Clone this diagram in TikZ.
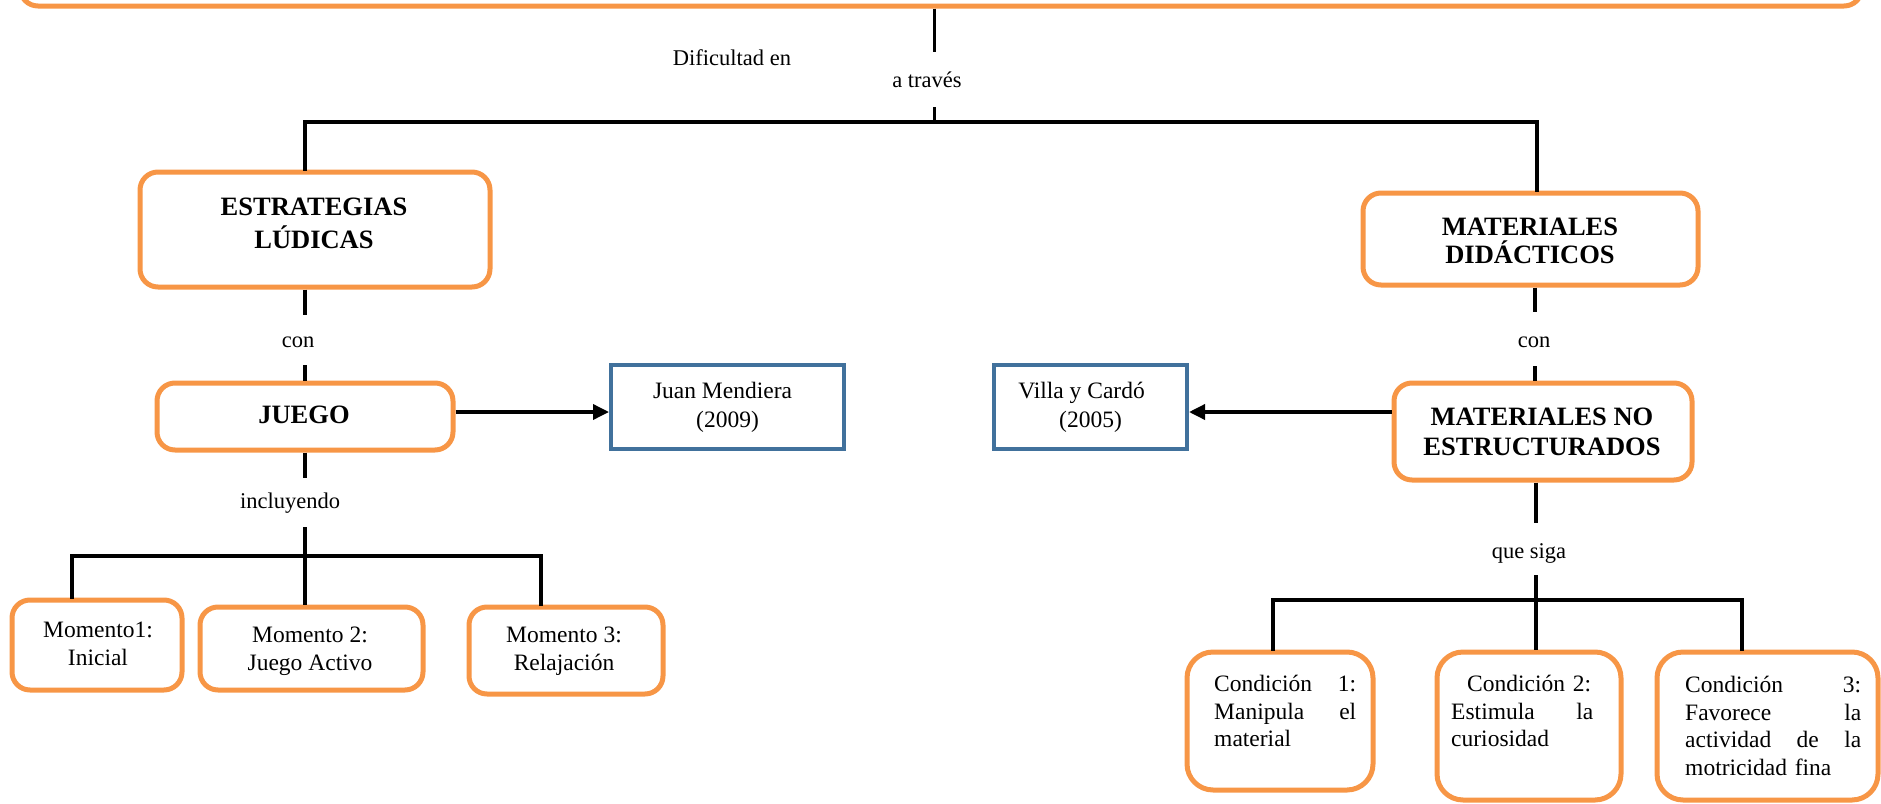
\documentclass[tikz,border=0pt]{standalone}
\usepackage{fontspec}
\setmainfont{Liberation Serif}
\usetikzlibrary{arrows.meta}
\definecolor{borange}{HTML}{F79646}
\definecolor{bblue}{HTML}{41719C}
\begin{document}
\begin{tikzpicture}[x=1pt,y=-1pt,
 obox/.style={draw=borange, line width=5pt, rounded corners=18pt, fill=white, inner sep=0pt},
 cbox/.style={obox, rounded corners=26pt},
 bbox/.style={draw=bblue, line width=4pt, fill=white, inner sep=0pt, align=center, font=\fontsize{23.5}{29}\selectfont},
 conn/.style={line width=3.5pt, black},
 arr/.style={conn, -{Triangle[length=16pt,width=15pt]}},
 lbl/.style={font=\fontsize{22.5}{27}\selectfont, inner sep=0pt},
 btxt/.style={font=\fontsize{26.5}{31}\selectfont\bfseries, align=center, inner sep=0pt},
 rtxt/.style={font=\fontsize{23.5}{28}\selectfont, align=center, inner sep=0pt},
 jtxt/.style={font=\fontsize{23.5}{27.5}\selectfont, align=left, inner sep=0pt, anchor=north west},
]
\useasboundingbox (0,0) rectangle (1881,803);
\clip (0,0) rectangle (1881,803);

% top box
\node[obox, minimum width=1842pt, minimum height=86pt] (top) at (941,-37) {};

% labels of the top part
\node[lbl] (ldif) at (732,58) {Dificultad en};
\node[lbl] (ltra) at (927,80) {a través};

% main boxes
\node[obox, minimum width=350pt, minimum height=115pt] (est) at (315,229.5) {};
\node[btxt, font=\fontsize{26.5}{33}\selectfont\bfseries] (estt) at (314,223.5) {ESTRATEGIAS\\LÚDICAS};

\node[obox, minimum width=335pt, minimum height=92pt] (md) at (1530.5,239) {};
\node[btxt, font=\fontsize{26.5}{28.5}\selectfont\bfseries] (mdt) at (1530,241) {MATERIALES\\DIDÁCTICOS};

\node[obox, minimum width=296pt, minimum height=67pt] (jue) at (305,416.5) {};
\node[btxt] (juet) at (304,415) {JUEGO};

\node[obox, minimum width=298pt, minimum height=97pt] (mne) at (1543,431.5) {};
\node[btxt, font=\fontsize{26.5}{30}\selectfont\bfseries] (mnet) at (1542,432) {MATERIALES NO\\ESTRUCTURADOS};

\node[bbox, minimum width=233pt, minimum height=84pt] (juan) at (727.5,407) {Juan Mendiera\hspace*{10pt}\\(2009)};
\node[bbox, minimum width=193pt, minimum height=84pt] (villa) at (1090.5,407) {Villa y Cardó\hspace*{18pt}\\(2005)};

% momentos
\node[obox, minimum width=170pt, minimum height=90pt] (m1) at (97,645) {};
\node[rtxt] (m1t) at (98,644) {Momento1:\\Inicial};
\node[obox, minimum width=223pt, minimum height=83pt] (m2) at (311.5,648.5) {};
\node[rtxt] (m2t) at (310,651.5) {Momento 2:\\Juego Activo};
\node[obox, minimum width=194pt, minimum height=87pt] (m3) at (566,650.5) {};
\node[rtxt] (m3t) at (564,651.5) {Momento 3:\\Relajación};

% condiciones
\node[cbox, minimum width=186pt, minimum height=138pt] (c1) at (1280,721) {};
\node[jtxt, text width=142pt] (c1t) at (1214,675) {Condición\hfill 1:\\Manipula\hfill el\\material};
\node[cbox, minimum width=184pt, minimum height=148pt] (c2) at (1529,726) {};
\node[jtxt, text width=142pt] (c2t) at (1451,675) {\hspace*{16pt}Condición 2:\\Estimula\hfill la\\curiosidad};
\node[cbox, minimum width=221pt, minimum height=148pt] (c3) at (1767.5,726) {};
\node[jtxt, text width=176pt] (c3t) at (1685,676) {Condición\hfill 3:\\Favorece\hfill la\\actividad\hfill de\hfill la\\motricidad fina};

% connector labels
\node[lbl] (lcon1) at (298,342) {con};
\node[lbl] (lcon2) at (1534,342) {con};
\node[lbl] (linc) at (290,503) {incluyendo};
\node[lbl] (lque) at (1529,553) {que siga};

% coordinates
\coordinate (s1a) at (934.5,52);
\coordinate (s1b) at (934.5,107);
\coordinate (hl) at (305,122);
\coordinate (hr) at (1537,122);
\coordinate (ec) at (305,0);
\coordinate (mc) at (1535,0);
\coordinate (ay) at (0,412);
\coordinate (la1) at (305,315);
\coordinate (la2) at (305,365);
\coordinate (ra1) at (1535,312);
\coordinate (ra2) at (1535,366);
\coordinate (lb1) at (305,478);
\coordinate (lb2) at (305,527);
\coordinate (rb1) at (1536,523);
\coordinate (rb2) at (1536,575);
\coordinate (lh1) at (72,556);
\coordinate (lh2) at (305,556);
\coordinate (lh3) at (541,556);
\coordinate (rh1) at (1273,600);
\coordinate (rh2) at (1536,600);
\coordinate (rh3) at (1742,600);

% connectors
\draw[conn] (top.south -| s1a) -- (s1a);
\draw[conn] (s1b) -- (s1b |- hl);
\draw[conn, line cap=rect] (hl |- est.north) -- (hl) -- (hr) -- (hr |- md.north);

\draw[conn] (est.south -| ec) -- (la1);
\draw[conn] (la2) -- (jue.north -| ec);
\draw[conn] (md.south -| mc) -- (ra1);
\draw[conn] (ra2) -- (mne.north -| mc);

\draw[arr] (jue.east |- ay) -- (juan.west |- ay);
\draw[arr] (mne.west |- ay) -- (villa.east |- ay);

\draw[conn] (jue.south -| ec) -- (lb1);
\draw[conn] (lb2) -- (lh2);
\draw[conn, line cap=rect] (m1.north -| lh1) -- (lh1) -- (lh3) -- (m3.north -| lh3);
\draw[conn] (lh2) -- (m2.north -| lh2);

\draw[conn] (mne.south -| rb1) -- (rb1);
\draw[conn] (rb2) -- (rh2);
\draw[conn, line cap=rect] (c1.north -| rh1) -- (rh1) -- (rh3) -- (c3.north -| rh3);
\draw[conn] (rh2) -- (c2.north -| rh2);
\end{tikzpicture}
\end{document}
